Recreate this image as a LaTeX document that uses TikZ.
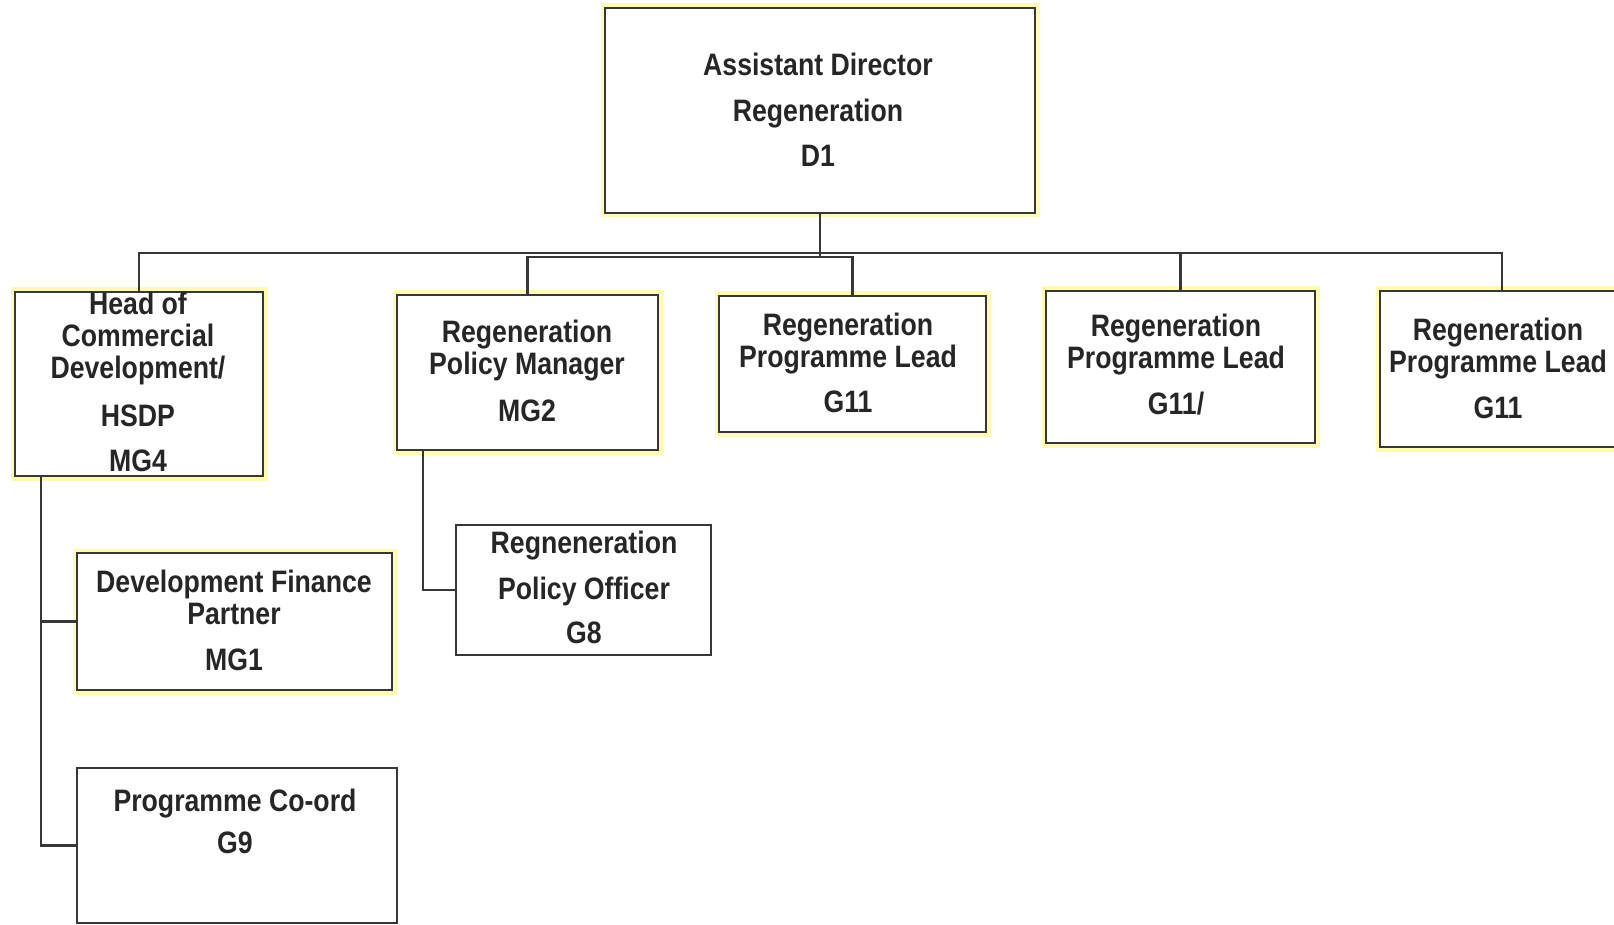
\documentclass[tikz,border=0pt]{standalone}
\usepackage{fontspec}
\setmainfont[FakeStretch=0.86]{Liberation Sans}
\usetikzlibrary{fit}
\definecolor{cGlow}{RGB}{255,251,175}
\definecolor{cLine}{RGB}{55,55,55}

\begin{document}
\begin{tikzpicture}[x=1pt,y=-1pt,
  box/.style={draw=cLine,line width=2.8pt,fill=white,inner sep=0pt},
  glow/.style={box,preaction={draw=cGlow,line width=9pt}},
  link/.style={draw=cLine,line width=2.6pt},
  txt/.style={align=center,text=black!85,font=\bfseries\fontsize{31}{32}\selectfont}]
\useasboundingbox (0,0) rectangle (1614,925);
\fill[white] (0,0) rectangle (1614,925);
\clip (0,0) rectangle (1614,925);
\node[glow,fit={(605,8) (1035,213)}] (ad) {};
\node[glow,fit={(15,292) (263,476)}] (hd) {};
\node[glow,fit={(397,295) (658,450)}] (pm) {};
\node[glow,fit={(719,296) (986,432)}] (g1) {};
\node[glow,fit={(1046,291) (1315,443)}] (g2) {};
\node[glow,fit={(1380,291) (1624,447)}] (g3) {};
\node[glow,fit={(77,553) (392,690)}] (fp) {};
\node[box,fit={(456,525) (711,655)}] (po) {};
\node[box,fit={(77,768) (397,923)}] (pc) {};
\node[txt] (ad-t) at (818,110) {Assistant Director\\[14pt]Regeneration\\[13pt]D1};
\node[txt] (hd-t) at (138,382) {Head of\\Commercial\\Development/\\[16pt]HSDP\\[13pt]MG4};
\node[txt] (pm-t) at (527,371) {Regeneration\\Policy Manager\\[15pt]MG2};
\node[txt] (g1-t) at (848,363) {Regeneration\\Programme Lead\\[13pt]G11};
\node[txt] (g2-t) at (1176,365) {Regeneration\\Programme Lead\\[14pt]G11/};
\node[txt] (g3-t) at (1498,368) {Regeneration\\Programme Lead\\[14pt]G11};
\node[txt] (fp-t) at (234,620) {Development Finance\\Partner\\[14pt]MG1};
\node[txt] (po-t) at (584,587) {Regneneration\\[14pt]Policy Officer\\[12pt]G8};
\node[txt] (pc-t) at (235,821) {Programme Co-ord\\[10pt]G9};
\coordinate (bus) at (0,253);
\coordinate (bus2) at (0,257);
\coordinate (hdleg) at (41,476);
\coordinate (pmleg) at (423,450);
\draw[link] (ad.south) -- (ad.south |- bus2);
\draw[link] (hd.north) -- (hd.north |- bus) -- (g3.north |- bus) -- (g3.north);
\draw[link] (g2.north) -- (g2.north |- bus);
\draw[link] (pm.north) -- (pm.north |- bus2) -- (g1.north |- bus2) -- (g1.north);
\draw[link] (hdleg) |- (pc.west);
\draw[link] (hdleg |- fp.west) -- (fp.west);
\draw[link] (pmleg) |- (po.west);
\end{tikzpicture}
\end{document}
